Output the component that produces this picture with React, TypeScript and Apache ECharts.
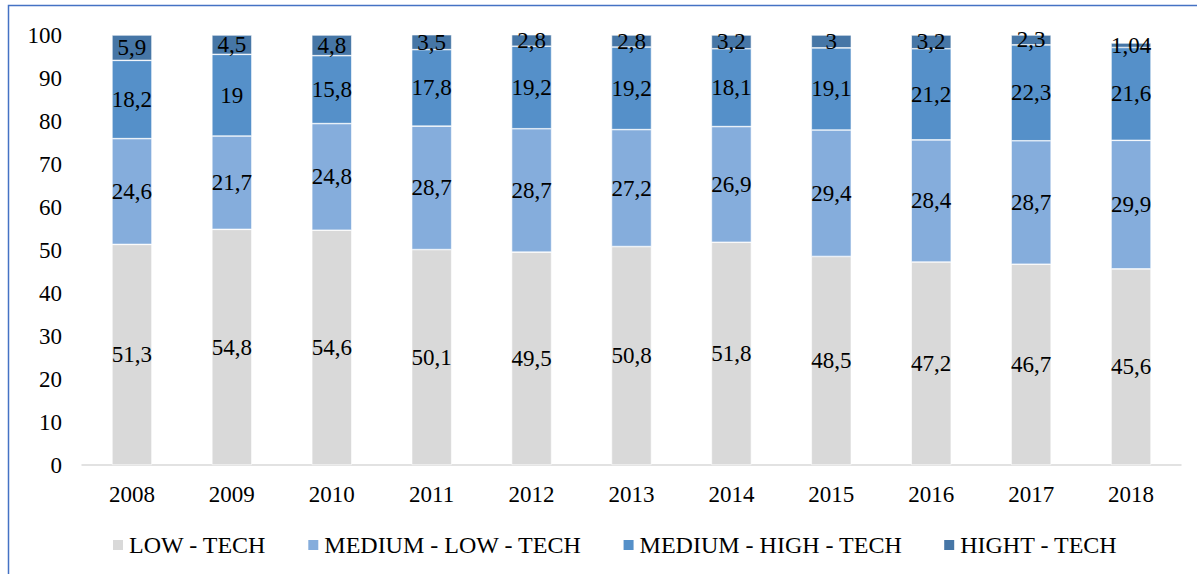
import React, { useEffect, useRef } from "react";
import * as echarts from "echarts";

const years = ["2008", "2009", "2010", "2011", "2012", "2013", "2014", "2015", "2016", "2017", "2018"];
const lowTech = [51.3, 54.8, 54.6, 50.1, 49.5, 50.8, 51.8, 48.5, 47.2, 46.7, 45.6];
const mediumLowTech = [24.6, 21.7, 24.8, 28.7, 28.7, 27.2, 26.9, 29.4, 28.4, 28.7, 29.9];
const mediumHighTech = [18.2, 19, 15.8, 17.8, 19.2, 19.2, 18.1, 19.1, 21.2, 22.3, 21.6];
const highTech = [5.9, 4.5, 4.8, 3.5, 2.8, 2.8, 3.2, 3, 3.2, 2.3, 1.04];
const seriesNames = ["LOW - TECH", "MEDIUM - LOW - TECH", "MEDIUM - HIGH - TECH", "HIGHT - TECH"];
const seriesColors = ["#D9D9D9", "#85ADDC", "#5590C9", "#4676A6"];

const FONT = "Liberation Serif";

export default function App() {
  const ref = useRef<HTMLDivElement>(null);
  useEffect(() => {
    const chart = echarts.init(ref.current!, undefined, { renderer: "svg" });
    const datas = [lowTech, mediumLowTech, mediumHighTech, highTech];
    chart.setOption({
      animation: false,
      backgroundColor: "#fff",
      textStyle: { fontFamily: FONT },
      graphic: [
        {
          type: "rect",
          shape: { x: 8.5, y: 5.5, width: 1300, height: 700 },
          style: { fill: "none", stroke: "#4472C4", lineWidth: 1.5 },
          silent: true,
        },
      ],
      legend: {
        top: 528,
        left: 106,
        itemWidth: 12,
        itemHeight: 12,
        itemGap: 40,
        icon: "rect",
        textStyle: { fontFamily: FONT, fontSize: 24, color: "#000", padding: [0, 0, 0, 0] },
        data: seriesNames,
      },
      grid: { left: 82, right: 16, top: 35, bottom: 109, containLabel: false },
      xAxis: {
        type: "category",
        data: years,
        axisLine: { lineStyle: { color: "#D9D9D9", width: 1.5 } },
        axisTick: { show: false },
        axisLabel: { fontFamily: FONT, fontSize: 23, color: "#000", margin: 18 },
      },
      yAxis: {
        type: "value",
        min: 0,
        max: 100,
        interval: 10,
        splitLine: { show: false },
        axisLine: { show: false },
        axisTick: { show: false },
        axisLabel: { fontFamily: FONT, fontSize: 23, color: "#000", margin: 20 },
      },
      series: datas.map((d, i) => ({
        name: seriesNames[i],
        type: "bar",
        stack: "total",
        data: d,
        barWidth: 40,
        itemStyle: { color: seriesColors[i], borderColor: "#ffffff", borderWidth: 0.6 },
        label: {
          show: true,
          position: "inside",
          fontFamily: FONT,
          fontSize: 23,
          color: "#000",
          formatter: (p: any) => String(p.value).replace(".", ","),
        },
      })),
    });
    return () => chart.dispose();
  }, []);
  return <div ref={ref} style={{ width: 1197, height: 574, position: "absolute", left: 0, top: 0 }} />;
}
